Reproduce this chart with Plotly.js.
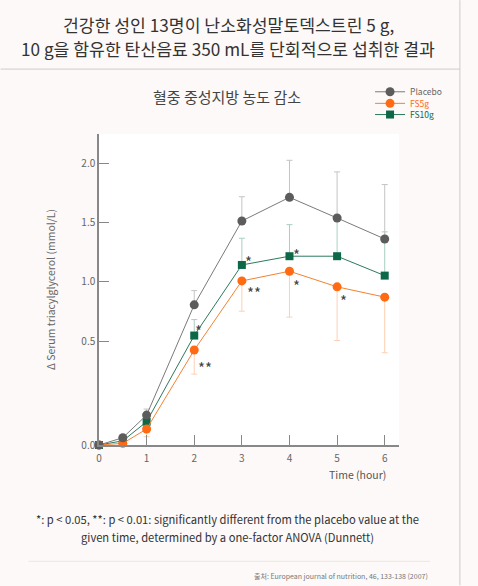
<!DOCTYPE html>
<html>
<head>
<meta charset="utf-8">
<script src="https://cdn.plot.ly/plotly-3.0.1.min.js"></script>
<style>
  html, body { margin: 0; padding: 0; background: #fcf9f8; }
  #graph { width: 478px; height: 586px; }
</style>
</head>
<body>
<div id="graph"></div>
<script>
// time points (hour)
var hours = [0, 0.5, 1, 2, 3, 4, 5, 6];

// mean change of serum triacylglycerol (mmol/L)
var placebo = [0, 0.035, 0.144, 0.807, 1.516, 1.716, 1.541, 1.364];
var fs5g    = [0, 0.008, 0.077, 0.457, 1.009, 1.091, 0.959, 0.872];
var fs10g   = [0, 0.02, 0.112, 0.547, 1.144, 1.218, 1.218, 1.054];

// error bars (placebo & FS10g go up, FS5g goes down)
var placeboErr = [0, 0, 0.029, 0.12, 0.205, 0.313, 0.39, 0.46];
var fs5gErr    = [0, 0, 0.037, 0.116, 0.256, 0.388, 0.454, 0.428];
var fs10gErr   = [0, 0, 0.02, 0.135, 0.226, 0.267, 0.31, 0.37];

// significance marks
var sigSeries = ['fs10g', 'fs5g', 'fs10g', 'fs5g', 'fs10g', 'fs5g', 'fs5g'];
var sigHour   = [2, 2, 3, 3, 4, 4, 5];
var sigText   = ['*', '**', '*', '**', '*', '*', '*'];

var yTicks = [0, 0.5, 1.0, 1.5, 2.0];
var yTickText = ['0.0', '0.5', '1.0', '1.5', '2.0'];

// the bottom segment (0 - 0.5) of the axis is stretched in the picture
var stretch = 1.757;
function f(v) {
    return v <= 0.5 ? v * stretch : 0.5 * stretch + (v - 0.5);
}

// plot area in pixels: x 98.5..399, y 134..445.5
function px(x) { return (x - 98.5) / 300.5; }
function py(y) { return (445.5 - y) / 311.5; }

var colGray = '#5c5c5c', colOrange = '#ff6a13', colGreen = '#0d6848';

function trace(name, vals, errs, up, color, lineColor, errColor, symbol, size, label, legend) {
    var y = vals.map(f);
    var plus = vals.map(function (v, i) { return up ? f(v + errs[i]) - f(v) : 0; });
    var minus = vals.map(function (v, i) { return up ? 0 : f(v) - f(v - errs[i]); });
    return {
        x: hours, y: y, type: 'scatter', mode: 'lines+markers',
        name: '<span style="color:' + label + '">' + name + '</span>',
        legend: legend,
        line: {color: lineColor, width: 1},
        marker: {color: color, size: size, symbol: symbol},
        cliponaxis: false,
        error_y: {type: 'data', symmetric: false, array: plus, arrayminus: minus,
                  color: errColor, thickness: 1, width: 3}
    };
}

// placebo drawn last so its markers sit on top
var data = [
    trace('FS10g', fs10g, fs10gErr, true, colGreen, '#2c7a5c', '#a9cfc1', 'square', 8, colGreen, 'legend3'),
    trace('FS5g', fs5g, fs5gErr, false, colOrange, '#f5822f', '#fdd0b5', 'circle', 9, colOrange, 'legend2'),
    trace('Placebo', placebo, placeboErr, true, colGray, '#7a7a7a', '#c4c4c4', 'circle', 9, '#666', 'legend')
];

var sigDx = [4, 11, 7, 12, 7, 7, 6];
var sigDy = [5, -17, 3, -12, 2, -14, -14];
var seriesVals = {fs5g: fs5g, fs10g: fs10g};

var annotations = sigText.map(function (t, i) {
    var idx = hours.indexOf(sigHour[i]);
    return {
        x: sigHour[i], y: f(seriesVals[sigSeries[i]][idx]), xref: 'x', yref: 'y',
        text: t, showarrow: false, xshift: sigDx[i], yshift: sigDy[i],
        font: {size: 15, color: '#444'}
    };
});

var fontKR = '"Noto Sans CJK KR", "Noto Sans", sans-serif';

function label(x, y, text, size, color, anchor) {
    return {xref: 'paper', yref: 'paper', x: px(x), y: py(y), text: text,
            xanchor: anchor || 'center', yanchor: 'middle', showarrow: false,
            font: {size: size, color: color, family: fontKR}};
}

annotations.push(
    label(228, 24, '건강한 성인 13명이 난소화성말토덱스트린 5 g,', 17.2, '#333'),
    label(228, 48, '10 g을 함유한 탄산음료 350 mL를 단회적으로 섭취한 결과', 17.2, '#333'),
    label(227, 96, '혈중 중성지방 농도 감소', 15, '#444'),
    label(388, 475, 'Time (hour)', 10.5, '#555', 'right'),
    label(227, 520, '*: p &lt; 0.05, **: p &lt; 0.01: significantly different from the placebo value at the', 11.2, '#333'),
    label(227, 538, 'given time, determined by a one-factor ANOVA (Dunnett)', 11.2, '#333'),
    label(430, 577, '출처: European journal of nutrition, 46, 133-138 (2007)', 7, '#777', 'right')
);

var shapes = [
    {type: 'line', xref: 'paper', yref: 'paper', x0: px(0), x1: px(460), y0: py(69), y1: py(69),
     line: {color: '#cfcbca', width: 1}},
    {type: 'line', xref: 'paper', yref: 'paper', x0: px(460), x1: px(460), y0: py(0), y1: py(586),
     line: {color: '#cfcbca', width: 1}},
    {type: 'line', xref: 'paper', yref: 'paper', x0: px(28), x1: px(430), y0: py(562), y1: py(562),
     line: {color: '#ebe6e5', width: 1}}
];

function legendBox(y) {
    return {x: px(370), y: py(y), xanchor: 'left', yanchor: 'middle',
            bgcolor: 'rgba(0,0,0,0)', font: {size: 8.5, color: '#666'}, itemwidth: 30};
}

var layout = {
    width: 478, height: 586,
    margin: {l: 98.5, r: 79, t: 134, b: 140.5},
    paper_bgcolor: '#fcf9f8',
    plot_bgcolor: '#ffffff',
    font: {family: fontKR, color: '#666', size: 10},
    showlegend: true,
    legend: legendBox(91.7),
    legend2: legendBox(103.3),
    legend3: legendBox(114.5),
    xaxis: {
        range: [0, 6.3], tickvals: [0, 1, 2, 3, 4, 5, 6], ticks: 'inside', ticklen: 10,
        tickcolor: '#888', showgrid: false, zeroline: false, showline: true,
        linecolor: '#888', linewidth: 1.5, tickfont: {size: 10, color: '#666'},
        ticklabelstandoff: 3
    },
    yaxis: {
        range: [0, 2.63], tickvals: yTicks.map(f), ticktext: yTickText, ticks: 'inside',
        ticklen: 10, tickcolor: '#888', showgrid: false, zeroline: false, showline: true,
        linecolor: '#888', linewidth: 1.5, tickfont: {size: 10, color: '#666'},
        title: {text: 'Δ Serum triacylglycerol (mmol/L)', font: {size: 10.5, color: '#666'}, standoff: 24}
    },
    annotations: annotations,
    shapes: shapes
};

Plotly.newPlot('graph', data, layout, {displayModeBar: false, responsive: false});
</script>
</body>
</html>
